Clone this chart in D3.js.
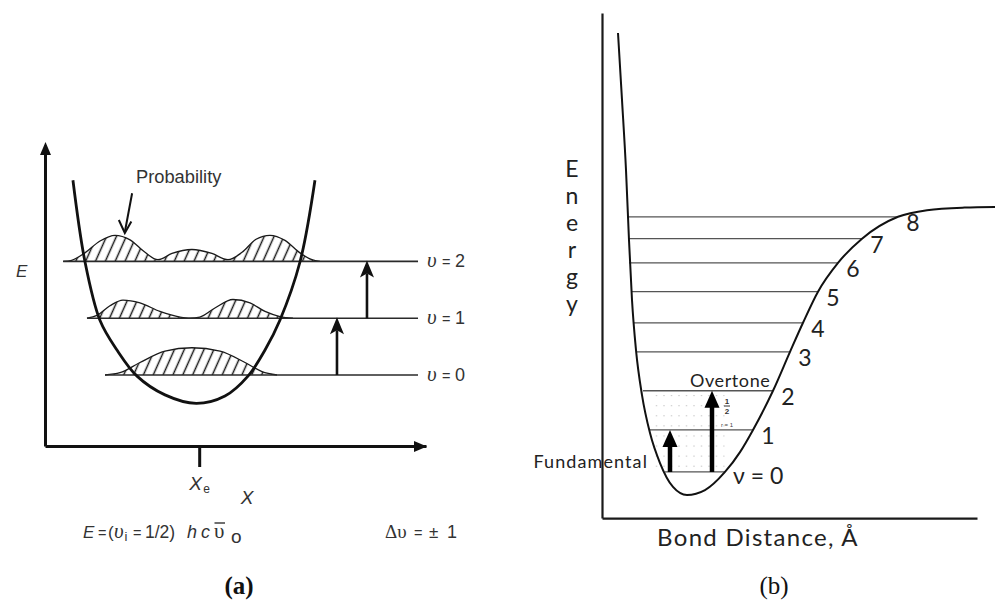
<!DOCTYPE html>
<html>
<head>
<meta charset="utf-8">
<script src="https://cdn.jsdelivr.net/npm/d3@7"></script>
<style>
  body { margin: 0; background: #fff; }
  svg { display: block; }
</style>
</head>
<body>
<svg id="fig" width="995" height="600"></svg>
<script>
// ===== Panel (a): harmonic oscillator =====
// Energy in units of h·c·ν̃, displacement in arbitrary units with X_e = 0
const levelsA = [0, 1, 2];
const levelEnergyA = [0.5, 1.5, 2.5];
const levelStartA = [-0.754, -0.903, -1.10];
const levelEndA = 1.834;
const transitionXA = [1.164, 1.412];          // arrows v0→v1 and v1→v2
const xeTick = [0];

// potential well
const wellA_x = [-1.019, -0.919, -0.795, -0.655, -0.489, -0.258, 0, 0.238, 0.428, 0.569, 0.693, 0.858, 0.982];
const wellA_E = [3.93, 2.49, 1.46, 0.94, 0.48, 0.15, 0, 0.13, 0.48, 0.94, 1.47, 2.49, 3.93];

// probability densities above each level
const prob0_x = [-0.754, -0.63, -0.465, -0.258, -0.035, 0.197, 0.404, 0.544, 0.668];
const prob0_p = [0, 0.04, 0.22, 0.42, 0.48, 0.42, 0.22, 0.06, 0];
const prob1_x = [-0.903, -0.82, -0.713, -0.605, -0.465, -0.30, -0.134, -0.05, 0.03, 0.155, 0.304, 0.445, 0.569, 0.693, 0.80];
const prob1_p = [0, 0.05, 0.22, 0.32, 0.27, 0.12, 0.02, 0, 0.02, 0.18, 0.33, 0.27, 0.12, 0.03, 0];
const prob2_x = [-1.10, -1.03, -0.92, -0.795, -0.671, -0.547, -0.423, -0.316, -0.20, -0.035, 0.13, 0.263, 0.379, 0.495, 0.61, 0.734, 0.858, 0.957, 1.024];
const prob2_p = [0, 0.02, 0.15, 0.36, 0.46, 0.38, 0.16, 0.03, 0.14, 0.21, 0.14, 0.03, 0.16, 0.39, 0.46, 0.37, 0.15, 0.03, 0];

// ===== Panel (b): anharmonic (Morse-type) potential =====
// bond distance in Å, energy relative to the dissociation limit (D = 1)
const levelsB = [0, 1, 2, 3, 4, 5, 6, 7, 8];
const levelEnergyB = [0.080, 0.226, 0.362, 0.497, 0.598, 0.706, 0.806, 0.890, 0.966];
const levelLeftB = [1.004, 0.884, 0.828, 0.780, 0.756, 0.732, 0.716, 0.708, 0.700];
const levelRightB = [1.484, 1.708, 1.868, 2.004, 2.108, 2.228, 2.388, 2.580, 2.868];

const morse_r = [0.628, 0.660, 0.692, 0.716, 0.740, 0.772, 0.820, 0.884, 0.964, 1.068, 1.180, 1.324, 1.484, 1.604, 1.708, 1.868, 2.004, 2.108, 2.228, 2.388, 2.580, 2.868, 3.100, 3.400, 3.644];
const morse_E = [1.604, 1.372, 1.128, 0.885, 0.677, 0.503, 0.347, 0.215, 0.111, 0.028, 0, 0.017, 0.080, 0.149, 0.226, 0.362, 0.497, 0.598, 0.706, 0.806, 0.890, 0.966, 0.989, 0.998, 1.0];

const fundamentalR = 1.044;   // v=0 → v=1
const overtoneR = 1.38;       // v=0 → v=2

// ---------------------------------------------------------------
const svg = d3.select("#fig");
const SANS = "'Liberation Sans', Arial, sans-serif";
const SERIF = "'Liberation Serif', 'Times New Roman', serif";
const ROUND = "Lato, 'Noto Sans', sans-serif";
const INK = "#333";

function label(g, x, y, txt, o = {}) {
  return g.append("text").attr("x", x).attr("y", y)
    .attr("font-family", o.family || SANS)
    .attr("font-size", o.size || 18)
    .attr("font-style", o.style || null)
    .attr("font-weight", o.weight || null)
    .attr("letter-spacing", o.spacing || null)
    .attr("text-anchor", o.anchor || null)
    .attr("fill", o.fill || INK)
    .text(txt);
}

const defs = svg.append("defs");
const hatch = defs.append("pattern")
  .attr("id", "hatch")
  .attr("patternUnits", "userSpaceOnUse")
  .attr("width", 9).attr("height", 9)
  .attr("patternTransform", "rotate(24)");
hatch.append("line")
  .attr("x1", 4.5).attr("y1", -1).attr("x2", 4.5).attr("y2", 10)
  .attr("stroke", "#1a1a1a").attr("stroke-width", 1.5);

// ---------- panel (a) ----------
const xA = d3.scaleLinear().domain([-1.25, 1.9]).range([45, 426]);
const yA = d3.scaleLinear().domain([-0.75, 4.55]).range([446, 145]);
const gA = svg.append("g").attr("class", "panel-a");

// axes
const axA_x = gA.append("g")
  .attr("transform", `translate(0,${yA(-0.75)})`)
  .call(d3.axisBottom(xA).tickValues(xeTick).tickSize(21).tickSizeOuter(0).tickFormat(() => ""));
axA_x.select(".domain").attr("stroke", "#111").attr("stroke-width", 3);
axA_x.selectAll(".tick line").attr("stroke", "#111").attr("stroke-width", 3)
  .attr("transform", "translate(3,0)");

const axA_y = gA.append("g")
  .attr("transform", `translate(${xA(-1.25)},0)`)
  .call(d3.axisLeft(yA).tickValues([]).tickSizeOuter(0));
axA_y.select(".domain").attr("stroke", "#111").attr("stroke-width", 3);

// axis arrowheads
{
  const tx = xA(1.9), ty = yA(-0.75);
  gA.append("path")
    .attr("d", `M${tx + 1},${ty + 0.5} L${tx - 12},${ty - 5} L${tx - 12},${ty + 6} Z`)
    .attr("fill", "#111");
  const vx = xA(-1.25) + 0.5, vy = yA(4.55);
  gA.append("path")
    .attr("d", `M${vx},${vy - 3} L${vx - 5.5},${vy + 10} L${vx + 5.5},${vy + 10} Z`)
    .attr("fill", "#111");
}

// probability densities (hatched)
const probX = [prob0_x, prob1_x, prob2_x];
const probP = [prob0_p, prob1_p, prob2_p];
levelsA.forEach((v, i) => {
  const base = levelEnergyA[i];
  const pts = probX[i].map((x, j) => [x, probP[i][j]]);
  const area = d3.area()
    .x(d => xA(d[0])).y0(yA(base)).y1(d => yA(base + d[1]))
    .curve(d3.curveMonotoneX);
  const line = d3.line()
    .x(d => xA(d[0])).y(d => yA(base + d[1]))
    .curve(d3.curveMonotoneX);
  gA.append("path").attr("d", area(pts)).attr("fill", "url(#hatch)");
  gA.append("path").attr("d", line(pts))
    .attr("fill", "none").attr("stroke", "#1a1a1a").attr("stroke-width", 1.3);
});

// energy levels
gA.selectAll("line.levelA").data(levelsA).join("line")
  .attr("class", "levelA")
  .attr("x1", (d, i) => xA(levelStartA[i]))
  .attr("x2", xA(levelEndA))
  .attr("y1", (d, i) => yA(levelEnergyA[i]))
  .attr("y2", (d, i) => yA(levelEnergyA[i]))
  .attr("stroke", "#2a2a2a").attr("stroke-width", 1.6);

// level labels  υ = n
levelsA.forEach((v, i) => {
  const x0 = xA(levelEndA) + 9, y0 = yA(levelEnergyA[i]) + 6;
  label(gA, x0, y0, "υ", { family: SERIF, style: "italic", size: 21 });
  label(gA, x0 + 15, y0 - 0.5, "=", { size: 14.5 });
  label(gA, x0 + 28, y0, String(v), { size: 18 });
});

// potential well
gA.append("path")
  .attr("d", d3.line().x(d => xA(d)).y((d, j) => yA(wellA_E[j])).curve(d3.curveCatmullRom.alpha(0.5))(wellA_x))
  .attr("fill", "none").attr("stroke", "#111").attr("stroke-width", 2.8);

// transition arrows
transitionXA.forEach((x, i) => {
  const px = xA(x);
  const y0 = yA(levelEnergyA[i]);
  const y1 = yA(levelEnergyA[i + 1]);
  gA.append("line")
    .attr("x1", px).attr("x2", px).attr("y1", y0).attr("y2", y1 + 12)
    .attr("stroke", "#111").attr("stroke-width", 2.6);
  gA.append("path")
    .attr("d", `M${px},${y1 - 1} L${px - 7},${y1 + 16} L${px},${y1 + 12} L${px + 7},${y1 + 16} Z`)
    .attr("fill", "#111");
});

// "Probability" pointer
{
  const x1 = xA(-0.53), y1 = yA(3.70), x2 = xA(-0.59), y2 = yA(3.0);
  gA.append("line").attr("x1", x1).attr("y1", y1).attr("x2", x2).attr("y2", y2 - 1)
    .attr("stroke", "#111").attr("stroke-width", 2);
  gA.append("path")
    .attr("d", `M${x2 - 6},${y2 - 13} L${x2},${y2} L${x2 + 6.5},${y2 - 11.5}`)
    .attr("fill", "none").attr("stroke", "#111").attr("stroke-width", 2);
  label(gA, 136, 183, "Probability", { size: 18.3 });
}

// axis titles
label(gA, 16, 277, "E", { style: "italic", size: 17 });
label(gA, xA(0) - 7, 490, "X", { style: "italic", size: 19 });
label(gA, xA(0) + 7, 493, "e", { size: 12 });
label(gA, 247, 504, "X", { style: "italic", size: 19, anchor: "middle" });

// formula: E = (υi = 1/2)  h c ῡ o
label(gA, 83, 538, "E", { style: "italic", size: 17 });
label(gA, 98, 537.5, "=", { size: 14.5 });
label(gA, 108, 538, "(", { size: 17 });
label(gA, 114, 538, "υ", { family: SERIF, style: "italic", size: 21 });
label(gA, 124.5, 541, "i", { size: 13 });
label(gA, 133, 537.5, "=", { size: 14.5 });
label(gA, 145, 538, "1/2)", { size: 17.5 });
label(gA, 187, 538, "h", { style: "italic", size: 18 });
label(gA, 201, 538, "c", { style: "italic", size: 18 });
label(gA, 214, 538, "υ", { family: SERIF, size: 21 });
gA.append("line").attr("x1", 214.5).attr("x2", 225).attr("y1", 523).attr("y2", 523)
  .attr("stroke", INK).attr("stroke-width", 1.4);
label(gA, 231, 543, "o", { size: 19 });

// selection rule
label(gA, 385, 538, "Δυ", { family: SERIF, size: 19 });
label(gA, 414, 537.5, "=", { size: 14.5 });
label(gA, 429, 538, "±", { size: 17 });
label(gA, 447, 538, "1", { size: 18 });

label(gA, 239, 594, "(a)", { family: SERIF, weight: "bold", size: 25, anchor: "middle", fill: "#111" });

// ---------- panel (b) ----------
const xB = d3.scaleLinear().domain([0.5, 3.5]).range([602, 977]);
const yB = d3.scaleLinear().domain([0, 1]).range([495, 207]);
const gB = svg.append("g").attr("class", "panel-b");

const axB_x = gB.append("g")
  .attr("transform", `translate(0,${yB(-0.08)})`)
  .call(d3.axisBottom(xB).tickValues([]).tickSizeOuter(0));
axB_x.select(".domain").attr("stroke", "#1a1a1a").attr("stroke-width", 2.2);
const axB_y = gB.append("g")
  .attr("transform", `translate(${xB(0.5)},0)`)
  .call(d3.axisLeft(d3.scaleLinear().domain([-0.08, 1.674]).range([yB(-0.08), yB(1.674)])).tickValues([]).tickSizeOuter(0));
axB_y.select(".domain").attr("stroke", "#1a1a1a").attr("stroke-width", 2.2);

// faint speckle between the transition arrows
d3.range(0.10, 0.36, 0.035).forEach(e => {
  gB.append("line")
    .attr("x1", xB(0.93)).attr("x2", xB(1.48))
    .attr("y1", yB(e)).attr("y2", yB(e))
    .attr("stroke", "#c8c8c8").attr("stroke-width", 1)
    .attr("stroke-dasharray", "1.5 6");
});

// vibrational levels
gB.selectAll("line.levelB").data(levelsB).join("line")
  .attr("class", "levelB")
  .attr("x1", (d, i) => xB(levelLeftB[i]))
  .attr("x2", (d, i) => xB(levelRightB[i]))
  .attr("y1", (d, i) => yB(levelEnergyB[i]))
  .attr("y2", (d, i) => yB(levelEnergyB[i]))
  .attr("stroke", "#555").attr("stroke-width", 1.3);

// potential curve
gB.append("path")
  .attr("d", d3.line().x(d => xB(d)).y((d, j) => yB(morse_E[j])).curve(d3.curveMonotoneX)(morse_r))
  .attr("fill", "none").attr("stroke", "#111").attr("stroke-width", 2);

// level numbers
gB.selectAll("text.levnum").data(levelsB.filter(v => v > 0)).join("text")
  .attr("class", "levnum")
  .attr("x", v => xB(levelRightB[v]) + 15)
  .attr("y", v => yB(levelEnergyB[v]) + 14)
  .attr("text-anchor", "middle")
  .attr("font-family", ROUND).attr("font-size", 23).attr("fill", "#222")
  .text(v => v);
label(gB, xB(levelRightB[0]) + 8, yB(levelEnergyB[0]) + 12, "ν = 0", { family: ROUND, size: 23, fill: "#222" });

// fundamental and overtone arrows
function thickArrow(r, e0, e1) {
  const px = xB(r), y0 = yB(e0), y1 = yB(e1);
  gB.append("line").attr("x1", px).attr("x2", px).attr("y1", y0).attr("y2", y1 + 14)
    .attr("stroke", "#000").attr("stroke-width", 4.5);
  gB.append("path")
    .attr("d", `M${px},${y1} L${px - 7.5},${y1 + 17} L${px + 7.5},${y1 + 17} Z`)
    .attr("fill", "#000");
}
thickArrow(fundamentalR, levelEnergyB[0], levelEnergyB[1]);
thickArrow(overtoneR, levelEnergyB[0], levelEnergyB[2]);

// small margin note next to the overtone arrow
{
  const nx = xB(overtoneR) + 15;
  label(gB, nx, 404, "1", { size: 8, weight: "bold", anchor: "middle" });
  gB.append("line").attr("x1", nx - 3).attr("x2", nx + 3).attr("y1", 406).attr("y2", 406)
    .attr("stroke", "#333").attr("stroke-width", 1);
  label(gB, nx, 414, "2", { size: 8, weight: "bold", anchor: "middle" });
  label(gB, nx, 427, "r = 1", { size: 6, anchor: "middle", fill: "#444" });
}

label(gB, 690, 387, "Overtone", { family: ROUND, size: 18, spacing: 0.6, fill: "#222" });
label(gB, 648, 468, "Fundamental", { family: ROUND, size: 18, spacing: 1.1, anchor: "end", fill: "#222" });

// axis titles
const energyLetters = ["E", "n", "e", "r", "g", "y"];
gB.selectAll("text.elet").data(energyLetters).join("text")
  .attr("class", "elet")
  .attr("x", 572)
  .attr("y", (d, i) => 177 + i * 27)
  .attr("text-anchor", "middle")
  .attr("font-family", ROUND).attr("font-size", 23).attr("fill", "#222")
  .text(d => d);
label(gB, 758, 546, "Bond Distance, Å", { family: ROUND, size: 24, spacing: 1.3, anchor: "middle", fill: "#222" });
label(gB, 774, 594, "(b)", { family: SERIF, size: 25, anchor: "middle", fill: "#111" });
</script>
</body>
</html>
